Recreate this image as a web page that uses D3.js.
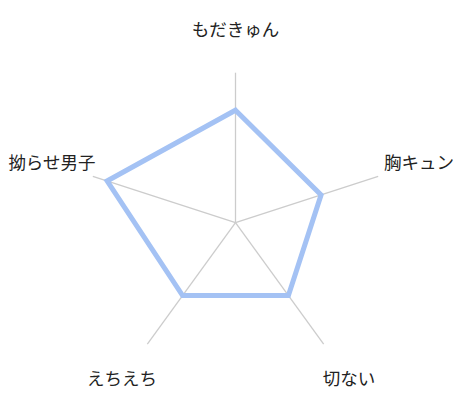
<!DOCTYPE html>
<html>
<head>
<meta charset="utf-8">
<script src="https://cdn.jsdelivr.net/npm/d3@7"></script>
<style>
body { margin: 0; background: #fff; }
text { font-family: "Noto Sans CJK JP", sans-serif; }
</style>
</head>
<body>
<svg width="464" height="404"></svg>
<script>
// axis labels, clockwise from the top
var categories = ["もだきゅん", "胸キュン", "切ない", "えちえち", "拗らせ男子"];
var values = [0.75, 0.6, 0.6, 0.6, 0.9];
var maxValue = 1;

var svg = d3.select("svg"),
    cx = 235.5, cy = 222.7, radius = 150, labelRadius = 193;

var r = d3.scaleLinear().domain([0, maxValue]).range([0, radius]);
var angle = d3.scaleLinear().domain([0, categories.length]).range([0, 2 * Math.PI]);

var g = svg.append("g").attr("transform", `translate(${cx},${cy})`);

function pt(i, d) {
    var a = angle(i);
    return [d * Math.sin(a), -d * Math.cos(a)];
}

g.selectAll("line.axis")
    .data(categories)
    .enter().append("line")
    .attr("class", "axis")
    .attr("x1", 0).attr("y1", 0)
    .attr("x2", (d, i) => pt(i, r(maxValue))[0])
    .attr("y2", (d, i) => pt(i, r(maxValue))[1])
    .attr("stroke", "#cccccc")
    .attr("stroke-width", 1.3);

var line = d3.lineRadial()
    .angle((d, i) => angle(i))
    .radius(d => r(d))
    .curve(d3.curveLinearClosed);

g.append("path")
    .datum(values)
    .attr("d", line)
    .attr("fill", "none")
    .attr("stroke", "#a4c2f4")
    .attr("stroke-width", 5)
    .attr("stroke-linejoin", "miter");

g.selectAll("text.label")
    .data(categories)
    .enter().append("text")
    .attr("class", "label")
    .attr("x", (d, i) => pt(i, labelRadius)[0])
    .attr("y", (d, i) => pt(i, labelRadius)[1] - 1.5)
    .attr("text-anchor", "middle")
    .attr("dominant-baseline", "central")
    .attr("font-size", 17.5)
    .attr("fill", "#222")
    .text(d => d);
</script>
</body>
</html>
